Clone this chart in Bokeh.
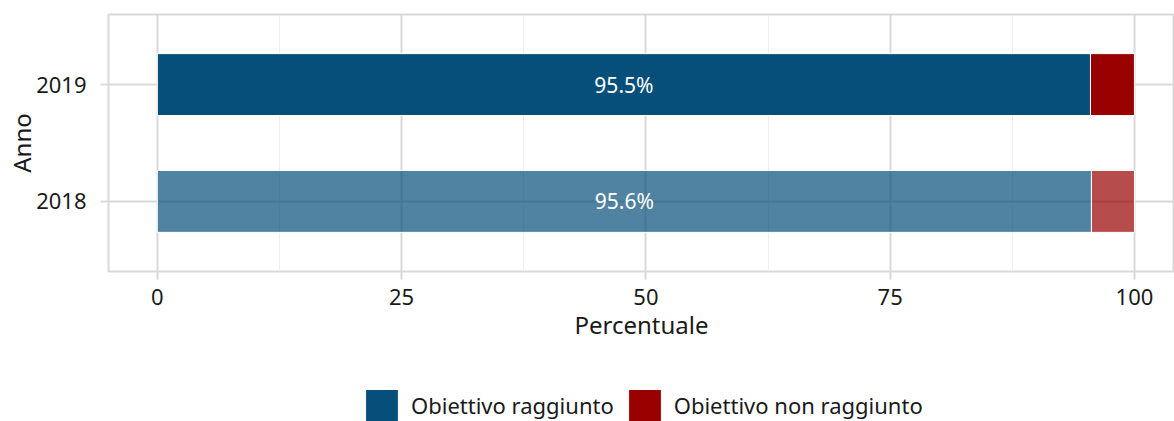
from bokeh.plotting import figure
from bokeh.layouts import column
from bokeh.models import ColumnDataSource, Range1d, FixedTicker, Legend, LegendItem
from bokeh.core.properties import value
from bokeh.embed import file_html
from bokeh.resources import INLINE

# ---- data ----
years = ["2018", "2019"]
raggiunto = [95.6, 95.5]
non_raggiunto = [4.4, 4.5]
x_ticks = [0, 25, 50, 75, 100]
series_names = ["Obiettivo raggiunto", "Obiettivo non raggiunto"]
x_label = "Percentuale"
y_label = "Anno"

# ---- style ----
BLUE = "#064F7A"
RED = "#990000"
year_alpha = [0.7, 1.0]
FONT = "Noto Sans"
GRID = "#d9d9d9"
MINOR = "#efefef"
TXT = "#1a1a1a"

ypos = [i + 1 for i in range(len(years))]
totals = [a + b for a, b in zip(raggiunto, non_raggiunto)]
src = ColumnDataSource(dict(
    y=ypos,
    zero=[0] * len(years),
    r=raggiunto,
    tot=totals,
    alpha=year_alpha,
    mid=[v / 2 for v in raggiunto],
    lab=[f"{v}%" for v in raggiunto],
))

p = figure(width=1174, height=380, output_backend="svg", toolbar_location=None,
           x_range=Range1d(-5, 104.1), y_range=Range1d(0.4, 2.6),
           min_border_left=108, min_border_top=14, min_border_right=0,
           min_border_bottom=109)
p.background_fill_color = "white"
p.border_fill_color = "white"
p.outline_line_color = GRID
p.outline_line_width = 2

minor = [(a + b) / 2 for a, b in zip(x_ticks, x_ticks[1:])]
p.xaxis.ticker = FixedTicker(ticks=x_ticks, minor_ticks=minor)
p.yaxis.ticker = FixedTicker(ticks=ypos)
p.yaxis.major_label_overrides = {yy: lab for yy, lab in zip(ypos, years)}

for ax in (p.xaxis, p.yaxis):
    ax.axis_line_color = None
    ax.major_tick_line_color = GRID
    ax.major_tick_line_width = 2
    ax.major_tick_out = 8
    ax.major_tick_in = 0
    ax.minor_tick_line_color = None
    ax.major_label_text_font = FONT
    ax.major_label_text_font_size = "22px"
    ax.major_label_text_color = TXT
    ax.axis_label_text_font = FONT
    ax.axis_label_text_font_size = "24px"
    ax.axis_label_text_font_style = "normal"
    ax.axis_label_text_color = TXT

p.xaxis.axis_label = x_label
p.yaxis.axis_label = y_label
p.xaxis.major_label_standoff = 9
p.yaxis.major_label_standoff = 14
p.xaxis.axis_label_standoff = 0
p.yaxis.axis_label_standoff = -5

p.xgrid.grid_line_color = GRID
p.xgrid.grid_line_width = 2
p.xgrid.minor_grid_line_color = MINOR
p.xgrid.minor_grid_line_width = 1
p.ygrid.grid_line_color = GRID
p.ygrid.grid_line_width = 2

bar_kw = dict(height=0.53, source=src, fill_alpha="alpha", line_color="white", line_width=1)
p.hbar(y="y", left="zero", right="r", fill_color=BLUE, **bar_kw)
p.hbar(y="y", left="r", right="tot", fill_color=RED, **bar_kw)

p.text(x="mid", y="y", text="lab", source=src, text_color="white",
       text_font=value(FONT), text_font_size="21px",
       text_align="center", text_baseline="middle")

# ---- legend strip (its own small figure so it can sit under the axis title) ----
lg = figure(width=1174, height=41, output_backend="svg", toolbar_location=None,
            x_range=Range1d(-1000, -999), y_range=Range1d(0.4, 2.6),
            x_axis_type=None, y_axis_type=None,
            min_border_left=0, min_border_right=0, min_border_top=0, min_border_bottom=0)
lg.outline_line_color = None
lg.grid.visible = False
lg.background_fill_color = "white"
lg.border_fill_color = "white"
l1 = lg.hbar(y="y", left="zero", right="r", fill_color=BLUE, **bar_kw)
l2 = lg.hbar(y="y", left="r", right="tot", fill_color=RED, **bar_kw)

idx = len(years) - 1
legend = Legend(items=[LegendItem(label=series_names[0], renderers=[l1], index=idx),
                       LegendItem(label=series_names[1], renderers=[l2], index=idx)],
                orientation="horizontal", location=(253, -4),
                glyph_width=41, glyph_height=40, label_height=40,
                label_standoff=9, spacing=10, padding=0, margin=0,
                label_text_font=FONT, label_text_font_size="22px",
                label_text_color=TXT, border_line_color=None,
                background_fill_alpha=0)
lg.add_layout(legend, "center")

layout = column(p, lg, spacing=0)
open("out.html", "w").write(file_html(layout, INLINE))
